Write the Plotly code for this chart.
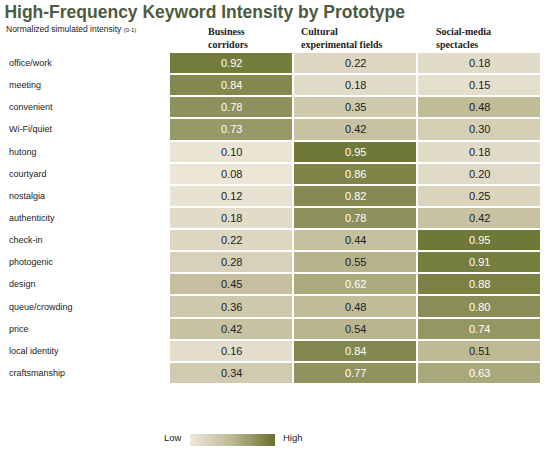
import plotly.graph_objects as go

# keywords (rows, top to bottom) and prototypes (columns)
keywords = ["office/work", "meeting", "convenient", "Wi-Fi/quiet", "hutong",
            "courtyard", "nostalgia", "authenticity", "check-in", "photogenic",
            "design", "queue/crowding", "price", "local identity", "craftsmanship"]
prototypes = ["Business<br>corridors", "Cultural<br>experimental fields",
              "Social-media<br>spectacles"]

business = [0.92, 0.84, 0.78, 0.73, 0.10, 0.08, 0.12, 0.18, 0.22, 0.28,
            0.45, 0.36, 0.42, 0.16, 0.34]
cultural = [0.22, 0.18, 0.35, 0.42, 0.95, 0.86, 0.82, 0.78, 0.44, 0.55,
            0.62, 0.48, 0.54, 0.84, 0.77]
social = [0.18, 0.15, 0.48, 0.30, 0.18, 0.20, 0.25, 0.42, 0.95, 0.91,
          0.88, 0.80, 0.74, 0.51, 0.63]

z = [[b, c, s] for b, c, s in zip(business, cultural, social)]
cols = [0, 1, 2]

olive = [[0.0, "#efe9dc"], [0.5, "#bcb892"], [1.0, "#66702b"]]

fig = go.Figure(go.Heatmap(
    z=z, x=cols, y=keywords,
    zmin=0.05, zmax=1.0,
    colorscale=olive,
    xgap=2, ygap=2,
    hoverinfo="skip",
    colorbar=dict(orientation="h", x=0.0565, xanchor="left", y=-0.169,
                  yanchor="middle", len=0.228, lenmode="fraction", thickness=12,
                  showticklabels=False, ticks="", outlinewidth=0, xpad=0, ypad=0),
))

# cell values, white on the darker cells
for i, row in enumerate(z):
    for j, v in enumerate(row):
        fig.add_annotation(x=cols[j], y=keywords[i], text=f"{v:.2f}",
                           showarrow=False,
                           font=dict(family="Arial", size=11,
                                     color="white" if v >= 0.58 else "#222222"))

# row labels, left aligned at the page edge
for k in keywords:
    fig.add_annotation(xref="paper", x=-0.435, xanchor="left", y=k,
                       yref="y", text=k, showarrow=False,
                       font=dict(family="Arial", size=9, color="#222222"))

# column headers
head_x = [-0.2, 0.55, 1.64]
for hx, h in zip(head_x, prototypes):
    fig.add_annotation(x=hx, xanchor="left", yref="paper", y=1.0,
                       yanchor="bottom", text=f"<b>{h}</b>", align="left",
                       showarrow=False,
                       font=dict(family="Liberation Serif", size=10, color="#222222"))

fig.add_annotation(xref="paper", yref="paper", x=0.04, y=-0.184, xanchor="right",
                   text="Low", showarrow=False,
                   font=dict(family="Arial", size=9.5, color="#222222"))
fig.add_annotation(xref="paper", yref="paper", x=0.302, y=-0.184, xanchor="left",
                   text="High", showarrow=False,
                   font=dict(family="Arial", size=9.5, color="#222222"))

fig.update_layout(
    width=550, height=452,
    margin=dict(l=169, r=9, t=52, b=68, autoexpand=False),
    paper_bgcolor="white", plot_bgcolor="white",
    title=dict(text="<b>High-Frequency Keyword Intensity by Prototype</b>",
               x=0.008, xanchor="left", y=0.973, yanchor="middle",
               font=dict(family="Arial", size=17.5, color="#4d5b3f")),
    xaxis=dict(visible=False, range=[-0.5, 2.5]),
    yaxis=dict(visible=False, autorange="reversed"),
    showlegend=False,
)

fig.add_annotation(xref="paper", yref="paper", x=-0.443, y=1.07, xanchor="left",
                   yanchor="middle", showarrow=False,
                   text="Normalized simulated intensity <span style='font-size:6px'>(0-1)</span>",
                   font=dict(family="Arial", size=8.5, color="#222222"))

# page body has a default 8px margin; drop it so the figure sits at the corner
fig.write_html("out.html", config={"displayModeBar": False},
               post_script="document.body.style.margin='0';")
